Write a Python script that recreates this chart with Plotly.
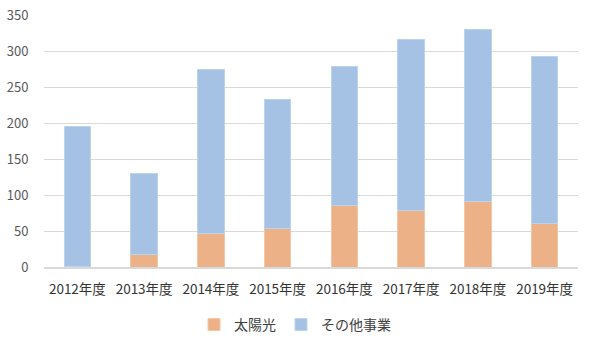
import plotly.graph_objects as go

years = ["2012年度", "2013年度", "2014年度", "2015年度", "2016年度", "2017年度", "2018年度", "2019年度"]
solar = [1, 17, 47, 53, 86, 78, 91, 61]
other = [194, 113, 227, 179, 193, 238, 239, 232]
y_ticks = [0, 50, 100, 150, 200, 250, 300, 350]

font_family = "Noto Sans CJK JP, Noto Sans, sans-serif"

fig = go.Figure()
fig.add_trace(go.Bar(x=years, y=solar, name="太陽光",
                     marker=dict(color="#ECB187", line=dict(color="#F3C6A5", width=1))))
fig.add_trace(go.Bar(x=years, y=other, name="その他事業",
                     marker=dict(color="#A5C2E4", line=dict(color="#BCD3EC", width=1))))

fig.update_layout(
    barmode="stack",
    bargap=0.6,
    width=590, height=341,
    margin=dict(l=44, r=12, t=15, b=74, autoexpand=False),
    paper_bgcolor="white", plot_bgcolor="white",
    font=dict(family=font_family, color="#595959", size=12),
    legend=dict(orientation="h", x=0.5, xref="container", xanchor="center",
                y=0.047, yref="container", yanchor="middle",
                font=dict(size=14, color="#404040"), itemwidth=30, traceorder="normal"),
    xaxis=dict(showgrid=False, showline=True, linecolor="#D9D9D9", linewidth=1.5,
               tickfont=dict(size=13.5, color="#333333"), ticks="outside", ticklen=9,
               tickcolor="rgba(0,0,0,0)", automargin=False),
    yaxis=dict(range=[0, 350], tickvals=y_ticks, showgrid=True, gridcolor="#D9D9D9",
               gridwidth=1, zeroline=False, showline=False,
               tickfont=dict(size=13, color="#595959"), ticks="outside", ticklen=12,
               tickcolor="rgba(0,0,0,0)", automargin=False),
)

fig.write_html("out.html")
